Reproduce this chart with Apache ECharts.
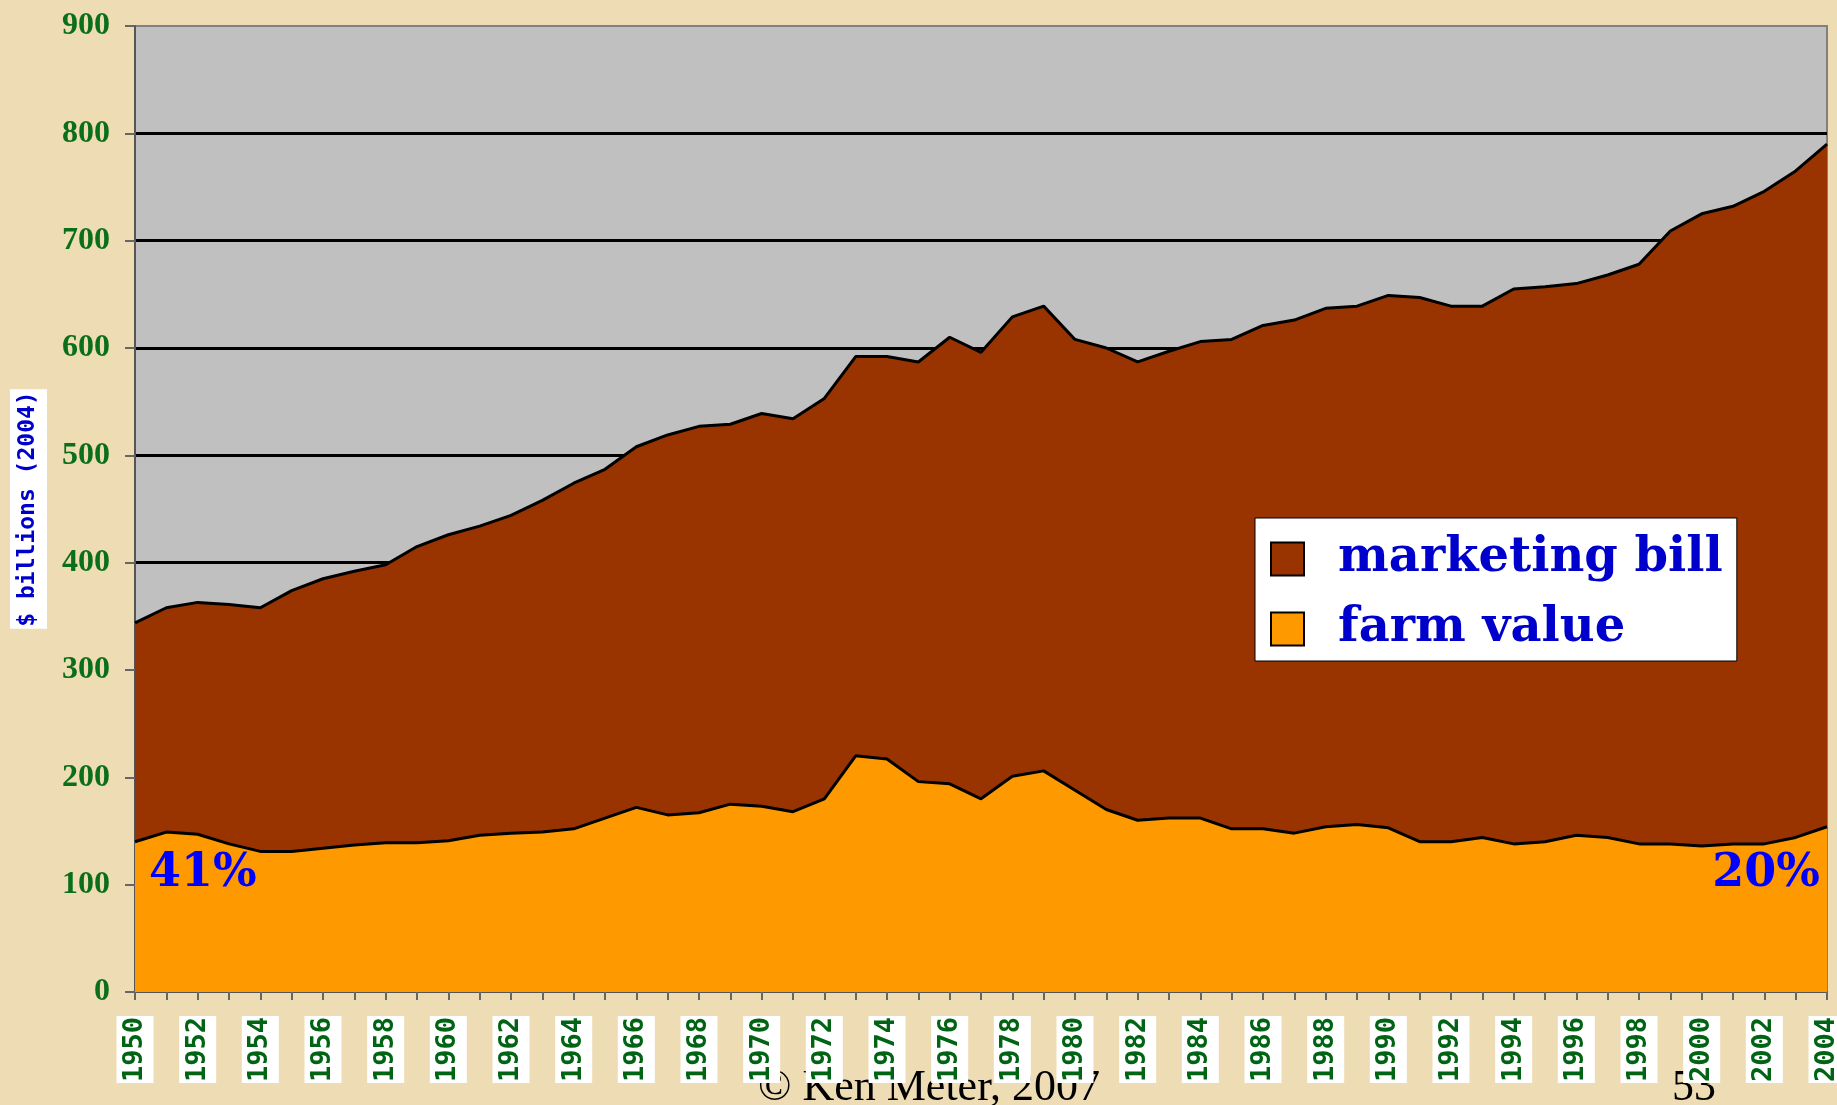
<!DOCTYPE html>
<html>
<head>
<meta charset="utf-8">
<script src="https://cdn.jsdelivr.net/npm/echarts@6/dist/echarts.min.js"></script>
<style>
  html, body { margin: 0; padding: 0; background: #eedcb5; }
  #chart_box { width: 1837px; height: 1105px; }
</style>
</head>
<body>
<div id="chart_box"></div>
<script>
// years on the category axis
let years = []
for (let y = 1950; y <= 2004; y++) {
    years.push(String(y))
}
// farm value, $ billions (2004)
let farmValue = [
    140, 149, 147, 138, 131, 131, 134, 137, 139, 139,
    141, 146, 148, 149, 152, 162, 172, 165, 167, 175,
    173, 168, 180, 220, 217, 196, 194, 180, 201, 206,
    188, 170, 160, 162, 162, 152, 152, 148, 154, 156,
    153, 140, 140, 144, 138, 140, 146, 144, 138, 138,
    136, 138, 138, 144, 154
]
// marketing bill, stacked on top of farm value
let marketingBill = [
    204, 209, 216, 223, 227, 243, 251, 255, 259, 276,
    285, 288, 296, 309, 322, 325, 336, 354, 360, 354,
    366, 366, 373, 372, 375, 391, 416, 416, 428, 433,
    420, 430, 427, 435, 444, 456, 469, 478, 483, 483,
    496, 507, 499, 495, 517, 517, 514, 524, 540, 571,
    589, 594, 608, 621, 636
]
let seriesNames = ['marketing bill', 'farm value']
let shareStart = '41%'
let shareEnd = '20%'

let myChart = echarts.init(document.getElementById('chart_box'))
let option = {
    backgroundColor: '#eedcb5',
    animation: false,
    grid: {
        left: 135,
        right: 10,
        top: 26,
        bottom: 113,
        outerBoundsMode: 'none',
        show: true,
        backgroundColor: '#c0c0c0',
        borderColor: '#808080',
        borderWidth: 2
    },
    legend: {
        data: seriesNames,
        orient: 'vertical',
        left: 1255,
        top: 518,
        padding: [11, 14, 2, 15],
        itemGap: 10,
        itemWidth: 33,
        itemHeight: 33,
        icon: 'rect',
        backgroundColor: '#ffffff',
        borderColor: '#000000',
        borderWidth: 1,
        selectedMode: false,
        itemStyle: {
            borderColor: '#000',
            borderWidth: 2
        },
        textStyle: {
            fontFamily: 'DejaVu Serif',
            fontWeight: 'bold',
            fontSize: 48,
            lineHeight: 44,
            color: '#0000cc',
            padding: [16, 0, 0, 29]
        }
    },
    xAxis: {
        type: 'category',
        data: years,
        boundaryGap: false,
        axisLine: {
            lineStyle: { color: '#555', width: 2 }
        },
        axisTick: {
            show: true,
            interval: 0,
            length: 8,
            lineStyle: { color: '#666', width: 2 }
        },
        axisLabel: {
            interval: 1,
            rotate: 90,
            margin: 24,
            fontFamily: 'DejaVu Sans Mono',
            fontWeight: 'bold',
            fontSize: 27,
            lineHeight: 33,
            color: '#006414',
            backgroundColor: '#ffffff',
            padding: [2, 1]
        },
        splitLine: { show: false }
    },
    yAxis: {
        type: 'value',
        min: 0,
        max: 900,
        interval: 100,
        name: '$ billions (2004)',
        nameLocation: 'middle',
        nameRotate: 90,
        nameGap: 88,
        nameTextStyle: {
            fontFamily: 'DejaVu Sans Mono',
            fontWeight: 'bold',
            fontSize: 23,
            lineHeight: 31,
            color: '#0000cc',
            backgroundColor: '#ffffff',
            padding: [3, 2]
        },
        axisLine: {
            show: true,
            lineStyle: { color: '#555', width: 2 }
        },
        axisTick: {
            show: true,
            length: 10,
            lineStyle: { color: '#666', width: 2 }
        },
        axisLabel: {
            margin: 25,
            fontFamily: 'Liberation Serif',
            fontWeight: 'bold',
            fontSize: 32,
            color: '#0b6e1a'
        },
        splitLine: {
            show: true,
            showMinLine: false,
            showMaxLine: false,
            lineStyle: { color: '#000', width: 3 }
        }
    },
    series: [
        {
            name: 'farm value',
            type: 'line',
            stack: 'total',
            data: farmValue,
            symbol: 'none',
            z: 3,
            color: '#ff9900',
            itemStyle: { color: '#ff9900' },
            lineStyle: { color: '#000', width: 3 },
            areaStyle: { color: '#ff9900', opacity: 1 },
            emphasis: { disabled: true }
        },
        {
            name: 'marketing bill',
            type: 'line',
            stack: 'total',
            data: marketingBill,
            symbol: 'none',
            z: 2,
            color: '#993300',
            itemStyle: { color: '#993300' },
            lineStyle: { color: '#000', width: 3 },
            areaStyle: { color: '#993300', opacity: 1 },
            emphasis: { disabled: true }
        }
    ],
    graphic: [
        {
            type: 'text',
            left: 149,
            top: 851,
            z: 10,
            style: {
                text: shareStart,
                fontFamily: 'DejaVu Serif',
                fontWeight: 'bold',
                fontSize: 46,
                fill: '#0000ff'
            }
        },
        {
            type: 'text',
            right: 17,
            top: 851,
            z: 10,
            style: {
                text: shareEnd,
                fontFamily: 'DejaVu Serif',
                fontWeight: 'bold',
                fontSize: 46,
                fill: '#0000ff'
            }
        },
        {
            type: 'text',
            left: 758,
            top: 1066,
            z: -1,
            style: {
                text: '\u00a9 Ken Meter, 2007',
                fontFamily: 'Liberation Serif',
                fontSize: 44,
                fill: '#000'
            }
        },
        {
            type: 'text',
            left: 1672,
            top: 1066,
            z: -1,
            style: {
                text: '53',
                fontFamily: 'Liberation Serif',
                fontSize: 44,
                fill: '#000'
            }
        }
    ]
}
myChart.setOption(option)
</script>
</body>
</html>
